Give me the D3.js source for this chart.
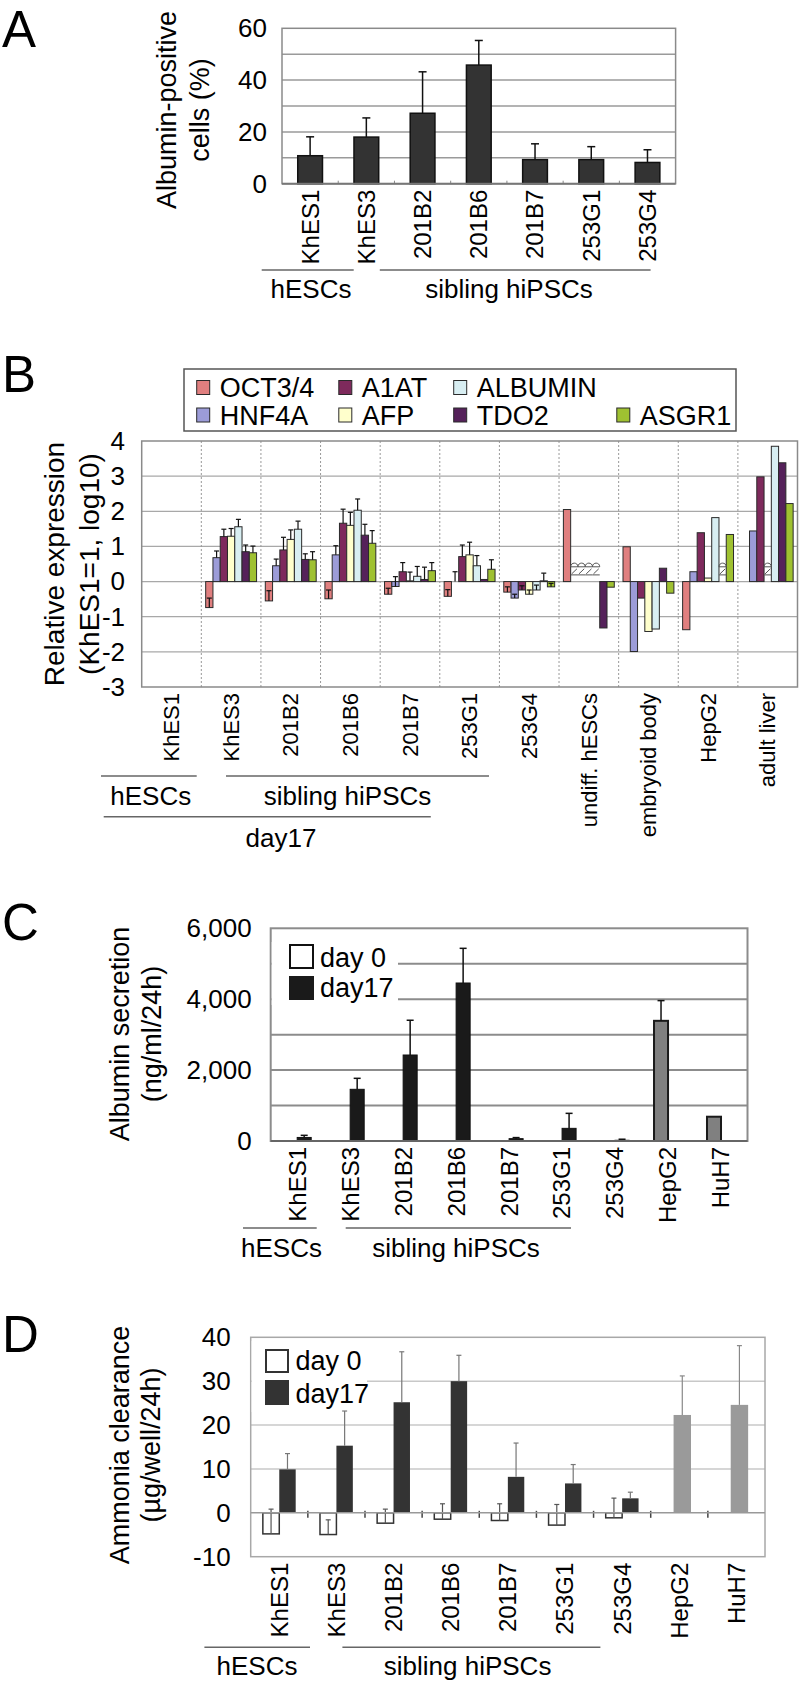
<!DOCTYPE html>
<html><head><meta charset="utf-8">
<script src="https://cdn.jsdelivr.net/npm/d3@7"></script>
<style>body{margin:0;background:#fff;}svg{display:block;}</style>
</head><body>
<script>
// ---------- Panel A data ----------
const aCategories = ["KhES1","KhES3","201B2","201B6","201B7","253G1","253G4"];
const aValues = [10.8, 18.0, 27.2, 45.8, 9.3, 9.3, 8.2];
const aErrors = [7.3, 7.4, 16.0, 9.5, 6.1, 5.0, 4.9];
const aTicks = [0, 20, 40, 60];
const aGroups = ["hESCs", "sibling hiPSCs"];
const aTitle = ["Albumin-positive", "cells (%)"];

// ---------- Panel B data ----------
const bCategories = ["KhES1","KhES3","201B2","201B6","201B7","253G1","253G4","undiff. hESCs","embryoid body","HepG2","adult liver"];
const bSeries = ["OCT3/4","HNF4A","A1AT","AFP","ALBUMIN","TDO2","ASGR1"];
const bColors = ["#E07F7F","#9C9CD8","#7E2A5C","#FFFFCC","#D8EEF2","#55215A","#9FC131"];
const bOCT     = [0,-0.74,-0.55,-0.49,-0.36,-0.42,-0.30, 2.05, 0.99,-1.37,0];
const bHNF4A   = [0, 0.68, 0.45, 0.76,-0.14, 0.00,-0.47, null,-1.99, 0.28,1.44];
const bA1AT    = [0, 1.28, 0.90, 1.66, 0.28, 0.71,-0.24, null,-0.47, 1.39,2.98];
const bAFP     = [0, 1.29, 1.20, 1.60, 0.02, 0.76,-0.36, null,-1.42, 0.10,null];
const bALBUMIN = [0, 1.56, 1.49, 2.03, 0.15, 0.45,-0.24, null,-1.35, 1.82,3.85];
const bTDO2    = [0, 0.85, 0.63, 1.32, 0.06, 0.06, 0.02,-1.32, 0.38, null,3.38];
const bASGR1   = [0, 0.82, 0.62, 1.09, 0.31, 0.35,-0.15,-0.16,-0.33, 1.34,2.22];
const bOCTErr     = [0,0.27,0.29,0.25,0.17,0.19,0.15,0,0,0,0];
const bHNF4AErr   = [0,0.19,0.19,0.26,0.28,0.28,0.11,0,0,0,0];
const bA1ATErr    = [0,0.21,0.36,0.40,0.26,0.33,0.12,0,0,0,0];
const bAFPErr     = [0,0.22,0.27,0.37,0.25,0.36,0.12,0,0,0,0];
const bALBUMINErr = [0,0.21,0.23,0.32,0.28,0.29,0.14,0,0,0,0];
const bTDO2Err    = [0,0.19,0.16,0.31,0.35,0.00,0.22,0,0,0,0];
const bASGR1Err   = [0,0.19,0.23,0.36,0.23,0.27,0.10,0,0,0,0];
const bNotDetected = [["undiff. hESCs","HNF4A"],["undiff. hESCs","A1AT"],["undiff. hESCs","AFP"],["undiff. hESCs","ALBUMIN"],["HepG2","TDO2"],["adult liver","AFP"]];
const bTicks = [-3,-2,-1,0,1,2,3,4];
const bGroups = ["hESCs","sibling hiPSCs","day17"];
const bTitle = ["Relative expression","(KhES1=1, log10)"];

// ---------- Panel C data ----------
const cCategories = ["KhES1","KhES3","201B2","201B6","201B7","253G1","253G4","HepG2","HuH7"];
const cDay0      = [0,0,0,0,0,0,0,null,null];
const cDay17     = [100,1458,2426,4457,66,357,20,null,null];
const cDay17Err  = [60,310,980,978,30,423,30,null,null];
const cCellLine    = [null,null,null,null,null,null,null,3390,685];
const cCellLineErr = [null,null,null,null,null,null,null,570,0];
const cTicks = [0,2000,4000,6000];
const cLegend = ["day 0","day17"];
const cGroups = ["hESCs","sibling hiPSCs"];
const cTitle = ["Albumin secretion","(ng/ml/24h)"];

// ---------- Panel D data ----------
const dCategories = ["KhES1","KhES3","201B2","201B6","201B7","253G1","253G4","HepG2","HuH7"];
const dDay0      = [-4.8,-4.95,-2.36,-1.45,-1.75,-2.8,-1.14,null,null];
const dDay0Err   = [5.64,3.35,3.2,3.51,3.81,4.7,4.49,null,null];
const dDay17     = [9.9,15.3,25.2,30.0,8.2,6.7,3.3,null,null];
const dDay17Err  = [3.6,7.9,11.5,5.9,7.7,4.3,1.4,null,null];
const dCellLine    = [null,null,null,null,null,null,null,22.3,24.6];
const dCellLineErr = [null,null,null,null,null,null,null,8.9,13.5];
const dTicks = [-10,0,10,20,30,40];
const dLegend = ["day 0","day17"];
const dGroups = ["hESCs","sibling hiPSCs"];
const dTitle = ["Ammonia clearance","(\u00b5g/well/24h)"];

// ---------- helpers ----------
const svg = d3.select("body").append("svg").attr("width",801).attr("height",1688)
  .attr("font-family","Liberation Sans");
svg.append("rect").attr("width",801).attr("height",1688).attr("fill","#fff");

function letter(t,x,y){ svg.append("text").attr("x",x).attr("y",y).attr("font-size",51).attr("fill","#000").text(t); }
function yTitle(lines, xs, cy, fs){
  lines.forEach((t,i)=>svg.append("text").attr("transform",`translate(${xs[i]},${cy}) rotate(-90)`)
    .attr("text-anchor","middle").attr("dy","0.36em").attr("font-size",fs).attr("fill","#000").text(t));
}
function yAxis(scale, x, ticks, pad, fs, fmt){
  const g = svg.append("g").attr("transform",`translate(${x},0)`)
    .call(d3.axisLeft(scale).tickValues(ticks).tickSize(0).tickPadding(pad).tickFormat(fmt || (d=>String(d))));
  g.attr("font-size",fs).attr("font-family","Liberation Sans");
  g.select(".domain").remove();
  g.selectAll(".tick text").attr("fill","#000");
}
// category labels, rotated and hanging below each band centre
function xLabels(scale, y, fs, gap){
  scale.domain().forEach(d=>{
    svg.append("text").attr("transform",`translate(${scale(d)+scale.bandwidth()/2},${y+gap}) rotate(-90)`)
      .attr("text-anchor","end").attr("dy","0.35em").attr("font-size",fs).attr("fill","#000").text(d);
  });
}
function hline(x1,x2,y,color,w){ svg.append("line").attr("x1",x1).attr("x2",x2).attr("y1",y).attr("y2",y).attr("stroke",color).attr("stroke-width",w); }
function ctext(t,x,y,fs){ svg.append("text").attr("x",x).attr("y",y).attr("text-anchor","middle").attr("font-size",fs).attr("fill","#000").text(t); }
function errBar(g,x,y1,y2,cap,color,w){
  g.append("line").attr("x1",x).attr("x2",x).attr("y1",y1).attr("y2",y2).attr("stroke",color).attr("stroke-width",w);
  g.append("line").attr("x1",x-cap/2).attr("x2",x+cap/2).attr("y1",y2).attr("y2",y2).attr("stroke",color).attr("stroke-width",w);
}

// ================= Panel A =================
letter("A",2,47);
{
  const L=282, R=675.6;
  const x = d3.scaleBand().domain(aCategories).range([L,R]).paddingInner(0.56).paddingOuter(0.28);
  const y = d3.scaleLinear().domain([0,60]).range([183.7,28.3]);
  const g = svg.append("g");
  g.selectAll(".grid").data(d3.range(10,60,10)).join("line")
    .attr("x1",L).attr("x2",R).attr("y1",d=>y(d)).attr("y2",d=>y(d)).attr("stroke","#9a9a9a").attr("stroke-width",1.5);
  g.append("rect").attr("x",L).attr("y",y(60)).attr("width",R-L).attr("height",y(0)-y(60))
    .attr("fill","none").attr("stroke","#8a8a8a").attr("stroke-width",1.5);
  hline(L,R,y(0),"#777",2);
  g.selectAll(".tk").data(d3.range(1,aCategories.length)).join("line")
    .attr("x1",i=>L+i*x.step()).attr("x2",i=>L+i*x.step()).attr("y1",y(0)).attr("y2",y(0)-3).attr("stroke","#888");
  const data = aCategories.map((c,i)=>({c,v:aValues[i],e:aErrors[i]}));
  g.selectAll(".bar").data(data).join("rect")
    .attr("x",d=>x(d.c)).attr("width",x.bandwidth()).attr("y",d=>y(d.v)).attr("height",d=>y(0)-y(d.v))
    .attr("fill","#333").attr("stroke","#111").attr("stroke-width",1.5);
  data.forEach(d=>errBar(g,x(d.c)+x.bandwidth()/2,y(d.v),y(d.v+d.e),8,"#111",1.5));
  yAxis(y,L,aTicks,15,26);
  xLabels(x,y(0),24,6);
  yTitle(aTitle,[166,199],110,27);
  hline(261.7,353.7,270,"#666",1.5);
  hline(379.8,650.6,270,"#666",1.5);
  ctext(aGroups[0],311,297.5,26);
  ctext(aGroups[1],509,297.5,26);
}

// ================= Panel B =================
letter("B",2,392);
{
  const L=141.7, R=797.5;
  const x0 = d3.scaleBand().domain(bCategories).range([L,R]).padding(0);
  const x1 = d3.scaleBand().domain(bSeries).range([0,x0.bandwidth()]).paddingInner(0).paddingOuter(0.6);
  const y = d3.scaleLinear().domain([-3,4]).range([687,441]);
  const vals = [bOCT,bHNF4A,bA1AT,bAFP,bALBUMIN,bTDO2,bASGR1];
  const errs = [bOCTErr,bHNF4AErr,bA1ATErr,bAFPErr,bALBUMINErr,bTDO2Err,bASGR1Err];
  const g = svg.append("g");
  g.selectAll(".grid").data(bTicks.filter(d=>d>-3&&d<4)).join("line")
    .attr("x1",L).attr("x2",R).attr("y1",d=>y(d)).attr("y2",d=>y(d)).attr("stroke","#a8a8a8").attr("stroke-width",1.3);
  g.selectAll(".sep").data(d3.range(1,bCategories.length)).join("line")
    .attr("x1",i=>L+i*x0.step()).attr("x2",i=>L+i*x0.step()).attr("y1",y(4)).attr("y2",y(-3))
    .attr("stroke","#999").attr("stroke-width",1).attr("stroke-dasharray","2,2");
  g.append("rect").attr("x",L).attr("y",y(4)).attr("width",R-L).attr("height",y(-3)-y(4))
    .attr("fill","none").attr("stroke","#8a8a8a").attr("stroke-width",1.5);
  const flat = [];
  bCategories.forEach((c,i)=>bSeries.forEach((s,j)=>{
    if (vals[j][i]!==null) flat.push({c,s,j,v:vals[j][i],e:errs[j][i]});
  }));
  g.selectAll(".bar").data(flat).join("rect")
    .attr("x",d=>x0(d.c)+x1(d.s)).attr("width",x1.bandwidth())
    .attr("y",d=>y(Math.max(0,d.v))).attr("height",d=>Math.abs(y(d.v)-y(0)))
    .attr("fill",d=>bColors[d.j]).attr("stroke","#2a2a2a").attr("stroke-width",1);
  flat.filter(d=>d.e>0).forEach(d=>errBar(g,x0(d.c)+x1(d.s)+x1.bandwidth()/2,y(d.v),y(d.v+d.e),5,"#111",1.2));
  bNotDetected.forEach(([c,s])=>{
    const xs = x0(c)+x1(s), w = x1.bandwidth();
    const yb = y(0.42), yt = y(0.56), yl = y(0.19);
    g.append("path").attr("d",`M${xs},${yb} C${xs},${yt} ${xs+w},${yt} ${xs+w},${yb}`)
      .attr("fill","none").attr("stroke","#555").attr("stroke-width",1);
    g.append("line").attr("x1",xs).attr("x2",xs+w).attr("y1",yb).attr("y2",yb).attr("stroke","#555").attr("stroke-width",1);
    g.append("line").attr("x1",xs).attr("x2",xs+w).attr("y1",yl).attr("y2",yl).attr("stroke","#555").attr("stroke-width",1);
    g.append("line").attr("x1",xs+1).attr("x2",xs+w-1).attr("y1",yl-1).attr("y2",yb+2).attr("stroke","#555").attr("stroke-width",1);
  });
  yAxis(y,L,bTicks,16.7,26);
  xLabels(x0,687,22,6);
  yTitle(bTitle,[54,89],564,28);
  svg.append("rect").attr("x",184).attr("y",369).attr("width",552).attr("height",62)
    .attr("fill","#fff").attr("stroke","#555").attr("stroke-width",1.5);
  const colX = [196.7,338.8,453.7,616.8];
  const pos = [[0,0],[0,1],[1,0],[1,1],[2,0],[2,1],[3,1]];
  const rowY = [387.5,415];
  bSeries.forEach((s,j)=>{
    const [cI,rI] = pos[j];
    svg.append("rect").attr("x",colX[cI]).attr("y",rowY[rI]-7).attr("width",13).attr("height",14)
      .attr("fill",bColors[j]).attr("stroke","#2a2a2a").attr("stroke-width",1);
    svg.append("text").attr("x",colX[cI]+23).attr("y",rowY[rI]).attr("dy","0.36em")
      .attr("font-size",27).attr("fill","#000").text(s);
  });
  hline(101,196.7,776,"#666",1.5);
  hline(226,489,776,"#666",1.5);
  ctext(bGroups[0],150.7,805,26);
  ctext(bGroups[1],347.5,805,26);
  hline(103.7,430.8,816.7,"#666",1.5);
  ctext(bGroups[2],281,846.7,26);
}

// ================= Panel C =================
letter("C",2,940);
{
  const L=270.7, R=747.5;
  const x = d3.scaleBand().domain(cCategories).range([L,R]).padding(0);
  const x1 = d3.scaleBand().domain(["day0","day17"]).range([0,x.bandwidth()]).paddingInner(0).paddingOuter(0.89);
  const y = d3.scaleLinear().domain([0,6000]).range([1141,928.3]);
  const g = svg.append("g");
  g.selectAll(".grid").data(d3.range(1000,6000,1000)).join("line")
    .attr("x1",L).attr("x2",R).attr("y1",d=>y(d)).attr("y2",d=>y(d)).attr("stroke","#8c8c8c").attr("stroke-width",2);
  g.append("rect").attr("x",L).attr("y",y(6000)).attr("width",R-L).attr("height",y(0)-y(6000))
    .attr("fill","none").attr("stroke","#8c8c8c").attr("stroke-width",2);
  g.append("rect").attr("x",L+1).attr("y",942).attr("width",398-L-1).attr("height",63).attr("fill","#fff");
  const bw = x1.bandwidth();
  cCategories.forEach((c,i)=>{
    if (cDay0[i]!==null) g.append("rect").attr("x",x(c)+x1("day0")).attr("width",bw)
      .attr("y",y(cDay0[i])).attr("height",y(0)-y(cDay0[i])).attr("fill","#fff").attr("stroke","#333").attr("stroke-width",1.5);
    if (cDay17[i]!==null){
      g.append("rect").attr("x",x(c)+x1("day17")).attr("width",bw)
        .attr("y",y(cDay17[i])).attr("height",y(0)-y(cDay17[i])).attr("fill","#1a1a1a").attr("stroke","#111").attr("stroke-width",1);
      errBar(g,x(c)+x1("day17")+bw/2,y(cDay17[i]),y(cDay17[i]+cDay17Err[i]),7,"#111",1.5);
    }
    if (cCellLine[i]!==null){
      g.append("rect").attr("x",x(c)+x1("day0")).attr("width",bw)
        .attr("y",y(cCellLine[i])).attr("height",y(0)-y(cCellLine[i])).attr("fill","#808080").attr("stroke","#1a1a1a").attr("stroke-width",2);
      if (cCellLineErr[i]>0) errBar(g,x(c)+x1("day0")+bw/2,y(cCellLine[i]),y(cCellLine[i]+cCellLineErr[i]),7,"#111",1.5);
    }
  });
  hline(L,R,y(0),"#666",2);
  svg.append("rect").attr("x",290).attr("y",945).attr("width",23).attr("height",23).attr("fill","#fff").attr("stroke","#111").attr("stroke-width",2);
  svg.append("rect").attr("x",289).attr("y",976).attr("width",25).attr("height",24).attr("fill","#1a1a1a");
  svg.append("text").attr("x",320).attr("y",966.5).attr("font-size",27).attr("fill","#000").text(cLegend[0]);
  svg.append("text").attr("x",320).attr("y",997).attr("font-size",27).attr("fill","#000").text(cLegend[1]);
  yAxis(y,L,cTicks,19,26,d3.format(","));
  xLabels(x,y(0),24,6);
  yTitle(cTitle,[119,151],1034,27);
  hline(243,316.7,1228,"#666",1.5);
  hline(345.7,571,1228,"#666",1.5);
  ctext(cGroups[0],281.5,1257,26);
  ctext(cGroups[1],456,1257,26);
}

// ================= Panel D =================
letter("D",2,1352);
{
  const L=250.7, R=765;
  const x = d3.scaleBand().domain(dCategories).range([L,R]).padding(0);
  const x1 = d3.scaleBand().domain(["day0","day17"]).range([0,x.bandwidth()]).paddingInner(0).paddingOuter(0.74);
  const y = d3.scaleLinear().domain([-10,40]).range([1556.7,1337.3]);
  const g = svg.append("g");
  g.selectAll(".grid").data([10,20,30]).join("line")
    .attr("x1",L).attr("x2",R).attr("y1",d=>y(d)).attr("y2",d=>y(d)).attr("stroke","#c8c8c8").attr("stroke-width",1.5);
  g.append("rect").attr("x",L).attr("y",y(40)).attr("width",R-L).attr("height",y(-10)-y(40))
    .attr("fill","none").attr("stroke","#a8a8a8").attr("stroke-width",1.5);
  hline(L,R,y(0),"#999",1.5);
  g.selectAll(".tk").data(d3.range(1,dCategories.length)).join("line")
    .attr("x1",i=>L+i*x.step()).attr("x2",i=>L+i*x.step()).attr("y1",y(0)-2).attr("y2",y(0)+5).attr("stroke","#444").attr("stroke-width",1.5);
  g.append("rect").attr("x",L+1).attr("y",1341).attr("width",367-L-1).attr("height",71).attr("fill","#fff");
  const bw = x1.bandwidth();
  dCategories.forEach((c,i)=>{
    if (dDay0[i]!==null){
      const v=dDay0[i];
      g.append("rect").attr("x",x(c)+x1("day0")).attr("width",bw)
        .attr("y",y(Math.max(0,v))).attr("height",Math.abs(y(v)-y(0))).attr("fill","#fff").attr("stroke","#333").attr("stroke-width",1.5);
    }
    if (dDay17[i]!==null){
      g.append("rect").attr("x",x(c)+x1("day17")).attr("width",bw)
        .attr("y",y(dDay17[i])).attr("height",y(0)-y(dDay17[i])).attr("fill","#333");
    }
    if (dCellLine[i]!==null){
      g.append("rect").attr("x",x(c)+x.bandwidth()/2-bw/2+2.5).attr("width",bw+1)
        .attr("y",y(dCellLine[i])).attr("height",y(0)-y(dCellLine[i])).attr("fill","#9a9a9a");
    }
  });
  dCategories.forEach((c,i)=>{
    if (dDay0[i]!==null) errBar(g,x(c)+x1("day0")+bw/2,y(dDay0[i]),y(dDay0[i]+dDay0Err[i]),5,"#555",1.2);
    if (dDay17[i]!==null) errBar(g,x(c)+x1("day17")+bw/2,y(dDay17[i]),y(dDay17[i]+dDay17Err[i]),5,"#777",1.2);
    if (dCellLine[i]!==null) errBar(g,x(c)+x.bandwidth()/2+3,y(dCellLine[i]),y(dCellLine[i]+dCellLineErr[i]),5,"#888",1.2);
  });
  svg.append("rect").attr("x",266).attr("y",1350).attr("width",22).attr("height",22).attr("fill","#fff").attr("stroke","#333").attr("stroke-width",2);
  svg.append("rect").attr("x",265).attr("y",1380).attr("width",24).attr("height",25).attr("fill","#333");
  svg.append("text").attr("x",295.5).attr("y",1370).attr("font-size",27).attr("fill","#000").text(dLegend[0]);
  svg.append("text").attr("x",295.5).attr("y",1403).attr("font-size",27).attr("fill","#000").text(dLegend[1]);
  yAxis(y,L,dTicks,20,26);
  xLabels(x,y(-10),24,6);
  yTitle(dTitle,[119,150],1445,27);
  hline(204.4,310,1647.3,"#666",1.5);
  hline(342.4,600.4,1647.3,"#666",1.5);
  ctext(dGroups[0],257,1675,26);
  ctext(dGroups[1],467.6,1675,26);
}
</script>
</body></html>
